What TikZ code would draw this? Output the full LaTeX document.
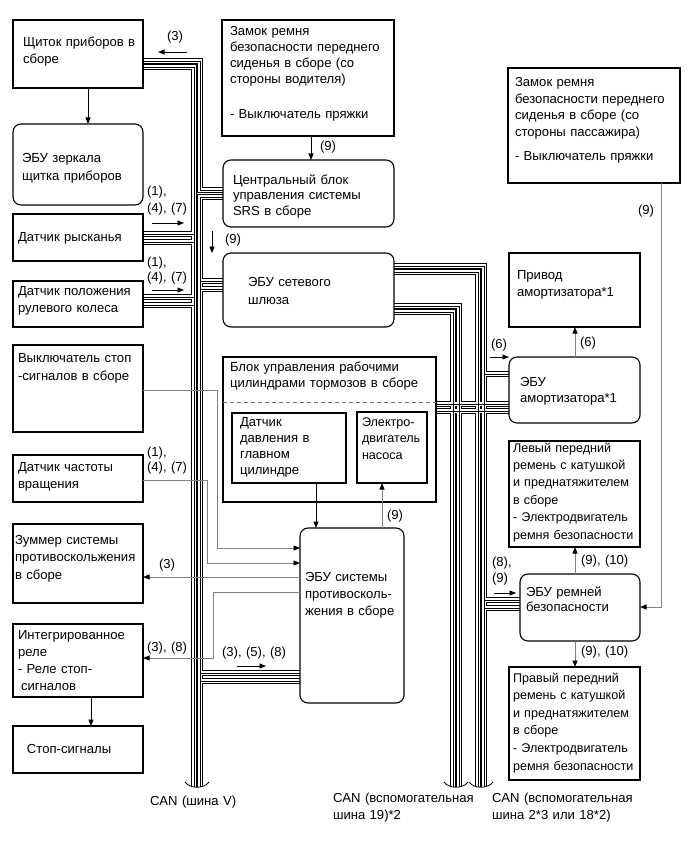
\documentclass[tikz,border=0pt]{standalone}
\usepackage{fontspec}
\setmainfont{Liberation Sans}
\usetikzlibrary{arrows.meta}
\pgfdeclarelayer{bg}
\pgfsetlayers{bg,main}
\begin{document}
\begin{tikzpicture}[x=1pt,y=-1pt,
  every node/.style={inner sep=0pt, outer sep=0pt},
  box/.style 2 args={draw, line width=1.1pt, fill=white, anchor=north west, minimum width=#1, minimum height=#2},
  rbox/.style 2 args={box={#1}{#2}, rounded corners=8pt},
  txt/.style={anchor=base west, align=left, text width=200pt, font=\fontsize{13.1}{17}\selectfont},
  ls/.style={font=\fontsize{13.1}{#1}\selectfont},
  lsn/.style={font=\fontsize{12.6}{#1}\selectfont},
  tip/.style={-{Triangle[length=6.5pt,width=5pt,color=black]}},
  arr/.style={tip, draw=black, line width=0.8pt},
  sig/.style={tip, draw=black!50, line width=0.9pt},
]
\useasboundingbox (0,0) rectangle (689,853);

% ---------- boxes ----------
\node[box={130pt}{68pt}] (shch) at (13,20) {};
\node[txt] (shch-t) at (23,47) {Щиток приборов в\\сборе};
\node[rbox={130pt}{81pt}] (ezerk) at (13,124) {};
\node[txt,ls=18] (ezerk-t) at (22,163) {ЭБУ зеркала\\щитка приборов};
\node[box={130pt}{47pt}] (ryskan) at (13,214) {};
\node[txt] (ryskan-t) at (18,241) {Датчик рысканья};
\node[box={130pt}{46pt}] (polozh) at (13,281) {};
\node[txt] (polozh-t) at (18,295) {Датчик положения\\рулевого колеса};
\node[box={130pt}{87pt}] (stopsw) at (13,345) {};
\node[txt,ls=18] (stopsw-t) at (18,362) {Выключатель стоп\\-сигналов в сборе};
\node[box={130pt}{47pt}] (chast) at (13,455) {};
\node[txt] (chast-t) at (18,471) {Датчик частоты\\вращения};
\node[box={130pt}{79pt}] (zummer) at (13,524) {};
\node[txt,ls=17.5] (zummer-t) at (15,544) {Зуммер системы\\противоскольжения\\в сборе};
\node[box={130pt}{73pt}] (integ) at (13,624) {};
\node[txt] (integ-t) at (18,639) {Интегрированное\\реле\\- Реле стоп-\\\hspace*{3pt}сигналов};
\node[box={130pt}{47pt}] (stopsig) at (13,726) {};
\node[txt] (stopsig-t) at (27,753) {Стоп-сигналы};

\node[box={172pt}{116pt}] (zamokD) at (222,20) {};
\node[txt,ls=16] (zamokD-t) at (230,36) {Замок ремня\\безопасности переднего\\сиденья в сборе (со\\стороны водителя)\\[19pt]- Выключатель пряжки};
\node[rbox={171pt}{67pt}] (srs) at (223,160) {};
\node[txt,ls=16] (srs-t) at (233,184) {Центральный блок\\управления системы\\SRS в сборе};
\node[rbox={171pt}{74pt}] (shluz) at (223,253) {};
\node[txt,ls=18] (shluz-t) at (248,286) {ЭБУ сетевого\\шлюза};
\node[box={213pt}{145pt}] (brake) at (223,357) {};
\node[txt,ls=16] (brake-t) at (230,371) {Блок управления рабочими\\цилиндрами тормозов в сборе};
\node[box={114pt}{70pt}] (pressure) at (232,413) {};
\node[txt,ls=16] (pressure-t) at (240,426) {Датчик\\давления в\\главном\\цилиндре};
\node[box={70pt}{71pt}] (motor) at (357,412) {};
\node[txt,lsn=16.5] (motor-t) at (362,426) {Электро-\\двигатель\\насоса};
\node[rbox={104pt}{175pt}] (abs) at (300,528) {};
\node[txt,ls=17] (abs-t) at (305,581) {ЭБУ системы\\противосколь-\\жения в сборе};

\node[box={172pt}{115pt}] (zamokP) at (508,68) {};
\node[txt,ls=16.5] (zamokP-t) at (515,87) {Замок ремня\\безопасности переднего\\сиденья в сборе (со\\стороны пассажира)\\[8pt]- Выключатель пряжки};
\node[box={131pt}{74pt}] (privod) at (509,253) {};
\node[txt] (privod-t) at (517,279) {Привод\\амортизатора*1};
\node[rbox={131pt}{66pt}] (amort) at (509,357) {};
\node[txt,ls=16] (amort-t) at (520,386) {ЭБУ\\амортизатора*1};
\node[box={131pt}{106pt}] (leftbelt) at (509,441) {};
\node[txt,lsn=17.4] (leftbelt-t) at (513,452) {Левый передний\\ремень с катушкой\\и преднатяжителем\\в сборе\\- Электродвигатель\\ремня безопасности};
\node[rbox={120pt}{67pt}] (beltecu) at (520,574) {};
\node[txt,ls=15.5] (beltecu-t) at (526,596) {ЭБУ ремней\\безопасности};
\node[box={131pt}{113pt}] (rightbelt) at (509,667) {};
\node[txt,lsn=17.6] (rightbelt-t) at (513,682) {Правый передний\\ремень с катушкой\\и преднатяжителем\\в сборе\\- Электродвигатель\\ремня безопасности};

\draw[black!55, line width=0.8pt, dash pattern=on 4pt off 3pt] (brake.west |- 0,402) -- (brake.east |- 0,402);

% ---------- bus end coordinates ----------
\coordinate (vL) at (194,792);
\coordinate (vR) at (200,792);
\coordinate (c19L) at (453,792);
\coordinate (c19R) at (459,792);
\coordinate (c2L) at (478,792);
\coordinate (c2R) at (484,792);

\def\allbus{
 (shch.east |- 0,61) -- (200,61) -- (200,190) -- (srs.west |- 0,190)
 (shch.east |- 0,67) -- (194,67) -- (vL)
 (srs.west |- 0,197) -- (200,197) -- (vR)
 (ryskan.east |- 0,234) -- (194,234)
 (ryskan.east |- 0,242) -- (194,242)
 (polozh.east |- 0,297) -- (194,297)
 (polozh.east |- 0,305) -- (194,305)
 (200,281) -- (shluz.west |- 0,281)
 (200,289) -- (shluz.west |- 0,289)
 (200,673) -- (abs.west |- 0,673)
 (200,681) -- (abs.west |- 0,681)
 (shluz.east |- 0,266) -- (484,266) -- (c2R)
 (shluz.east |- 0,272) -- (478,272) -- (c2L)
 (shluz.east |- 0,306) -- (459,306) -- (c19R)
 (shluz.east |- 0,312) -- (453,312) -- (c19L)
 (brake.east |- 0,404) -- (amort.west |- 0,404)
 (brake.east |- 0,411) -- (amort.west |- 0,411)
 (484,374) -- (amort.west |- 0,374)
 (484,600) -- (beltecu.west |- 0,600)
 (484,608) -- (beltecu.west |- 0,608)
}
\begin{pgfonlayer}{bg}
\fill[white] (0,0) rectangle (689,853);
\draw[black, line width=6.6pt] \allbus;
\draw[white, line width=3.4pt] \allbus;
\draw[black, line width=0.7pt] \allbus;
\foreach \cx in {197,456,481}{
  \fill[white] (\cx-12,782) .. controls (\cx-7,789) and (\cx+7,789) .. (\cx+12,782) -- (\cx+12,796) -- (\cx-12,796) -- cycle;
  \draw[line width=0.8pt] (\cx-12,782) .. controls (\cx-7,789) and (\cx+7,789) .. (\cx+12,782);
}
\end{pgfonlayer}

% ---------- signal lines ----------
\draw[sig] (stopsw.east |- 0,390) -- (217,390) -- (217,548) -- (abs.west |- 0,548);
\draw[sig] (chast.east |- 0,480) -- (207,480) -- (207,563) -- (abs.west |- 0,563);
\draw[sig] (abs.west |- 0,577) -- (zummer.east |- 0,577);
\draw[sig] (abs.west |- 0,592) -- (213,592) -- (213,658) -- (integ.east |- 0,658);
\draw[sig] (zamokP.south -| 661,0) -- (661,607) -- (beltecu.east |- 0,607);
\draw[sig] (abs.north -| 382,0) -- (motor.south -| 382,0);
\draw[sig] (amort.north -| 575,0) -- (privod.south -| 575,0);
\draw[sig] (beltecu.north -| 575,0) -- (leftbelt.south -| 575,0);
\draw[sig] (beltecu.south -| 575,0) -- (rightbelt.north -| 575,0);

\draw[arr] (shch.south -| 88,0) -- (ezerk.north -| 88,0);
\draw[arr] (integ.south -| 91,0) -- (stopsig.north -| 91,0);
\draw[arr] (zamokD.south -| 311,0) -- (srs.north -| 311,0);
\draw[arr] (pressure.south -| 316,0) -- (abs.north -| 316,0);

% ---------- direction indicators ----------
\coordinate (i1a) at (187,52);  \coordinate (i1b) at (158,52);
\coordinate (i2a) at (152,223); \coordinate (i2b) at (184,223);
\coordinate (i3a) at (152,290); \coordinate (i3b) at (184,290);
\coordinate (i4a) at (212,231); \coordinate (i4b) at (212,253);
\coordinate (i5a) at (490,357); \coordinate (i5b) at (509,357);
\coordinate (i6a) at (494,593); \coordinate (i6b) at (516,593);
\coordinate (i7a) at (237,666); \coordinate (i7b) at (266,666);
\foreach \i in {1,...,7}{ \draw[arr] (i\i a) -- (i\i b); }

% ---------- labels ----------
\node[txt] (l3a) at (167,41) {(3)};
\node[txt] (l147a) at (147,196) {(1),\\(4), (7)};
\node[txt,ls=15.5] (l147b) at (147,266) {(1),\\(4), (7)};
\node[txt,ls=15.5] (l147c) at (147,456) {(1),\\(4), (7)};
\node[txt] (l9srs) at (320,151) {(9)};
\node[txt] (l9down) at (225,243) {(9)};
\node[txt] (l6a) at (491,348) {(6)};
\node[txt] (l6b) at (580,346) {(6)};
\node[txt] (l9motor) at (387,519) {(9)};
\node[txt] (l910a) at (581,564) {(9), (10)};
\node[txt] (l910b) at (581,655) {(9), (10)};
\node[txt,ls=16] (l89) at (492,566) {(8),\\(9)};
\node[txt] (l9p) at (638,214) {(9)};
\node[txt] (l3z) at (159,568) {(3)};
\node[txt] (l38) at (147,651) {(3), (8)};
\node[txt] (l358) at (222,656) {(3), (5), (8)};
\node[txt] (canV) at (150,805) {CAN (шина V)};
\node[txt] (can19) at (333,802) {CAN (вспомогательная\\шина 19)*2};
\node[txt] (can2) at (492,802) {CAN (вспомогательная\\шина 2*3 или 18*2)};
\end{tikzpicture}
\end{document}
